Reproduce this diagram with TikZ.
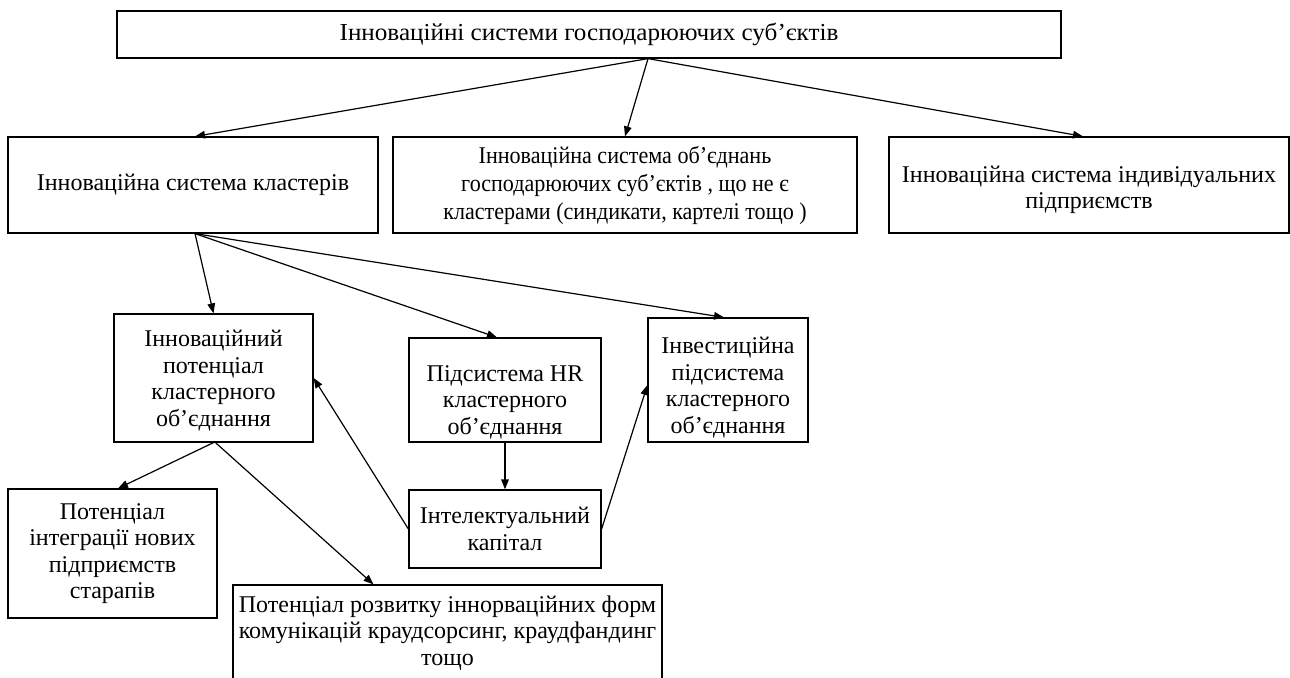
\documentclass[tikz,border=0pt]{standalone}
\usepackage{fontspec}
\setmainfont{Liberation Serif}
\usetikzlibrary{arrows.meta}
\usetikzlibrary{calc}

\tikzset{
  blok/.style={draw, line width=0.6pt, align=center, inner sep=0pt, font=\fontsize{12}{13.3}\selectfont},
  strilka/.style={-{Triangle[length=5pt,width=3.8pt]}, line width=0.6pt},
}

\begin{document}
\begin{tikzpicture}[x=0.5pt,y=0.5pt,yscale=-1,xscale=1]
\useasboundingbox (0,0) rectangle (1290,677);
\clip (0,0) rectangle (1290,677);

% Top level
\node [blok, minimum width=472pt, minimum height=23.5pt, font=\fontsize{12.2}{14}\selectfont\addfontfeatures{FakeStretch=1.03}] (innsys) at (589,34.5) {Інноваційні системи господарюючих суб’єктів};

% Second level
\node [blok, minimum width=185pt, minimum height=48pt] (klast) at (193,185) {Інноваційна система кластерів};
\node [blok, minimum width=232pt, minimum height=48pt, font=\fontsize{12}{14}\selectfont\addfontfeatures{FakeStretch=0.92}] (obyed) at (625,185) {Інноваційна система об’єднань\\господарюючих суб’єктів , що не є\\кластерами (синдикати, картелі тощо )};
\node [blok, minimum width=200pt, minimum height=48pt] (indyv) at (1089,185) {\rule{0pt}{13pt}Інноваційна система індивідуальних\\підприємств};

% Cluster subsystems
\node [blok, minimum width=99.5pt, minimum height=64pt] (potents) at (213.5,378) {\rule{0pt}{11pt}Інноваційний\\потенціал\\кластерного\\об’єднання};
\node [blok, minimum width=96pt, minimum height=52pt] (hrsub) at (505,390) {\rule{0pt}{20pt}Підсистема HR\\кластерного\\об’єднання};
\node [blok, minimum width=80pt, minimum height=62pt] (invest) at (728,380) {\rule{0pt}{16pt}Інвестиційна\\підсистема\\кластерного\\об’єднання};
\node [blok, minimum width=96pt, minimum height=39pt] (intelkap) at (505,529) {Інтелектуальний\\капітал};

% Potential parts
\node [blok, minimum width=104.5pt, minimum height=64.5pt] (integr) at (112.5,553.5) {Потенціал\\інтеграції нових\\підприємств\\старапів};
\node [blok, minimum width=214.5pt, minimum height=48pt] (rozvytok) at (447.5,633) {Потенціал розвитку іннорваційних форм\\комунікацій краудсорсинг, краудфандинг\\тощо};

% Arrows
\draw [strilka] ($(innsys.south)+(59,0)$) -- ($(klast.north)+(2,0)$);
\draw [strilka] ($(innsys.south)+(59,0)$) -- (obyed.north);
\draw [strilka] ($(innsys.south)+(59,0)$) -- ($(indyv.north)+(-6,0)$);
\draw [strilka] ($(klast.south)+(2,0)$) -- (potents.north);
\draw [strilka] ($(klast.south)+(2,0)$) -- ($(hrsub.north)+(-8,0)$);
\draw [strilka] ($(klast.south)+(2,0)$) -- ($(invest.north)+(-4,0)$);
\draw [strilka] (hrsub.south) -- (intelkap.north);
\draw [strilka] (intelkap.west) -- (potents.east);
\draw [strilka] (intelkap.east) -- ($(invest.west)+(0,5)$);
\draw [strilka] (potents.south) -- ($(integr.north)+(5.5,0)$);
\draw [strilka] ($(potents.south)+(2,0)$) -- ($(rozvytok.north)+(-74,0)$);

\end{tikzpicture}
\end{document}
